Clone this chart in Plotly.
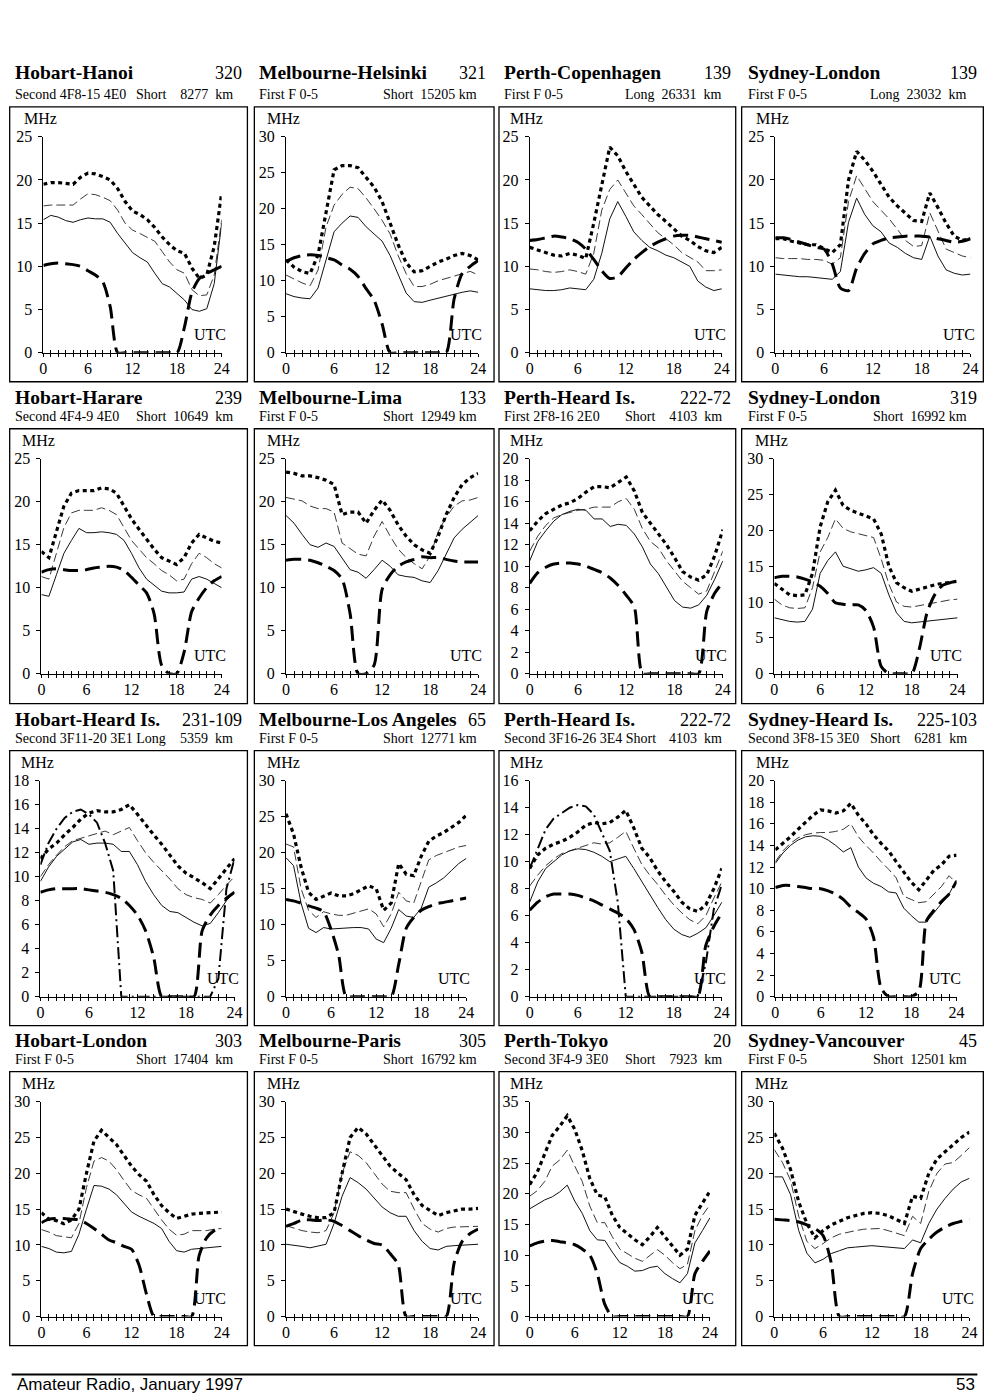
import plotly.graph_objects as go

W, H = 1000, 1400
HOURS = list(range(25))

# ---------------- data (MHz at each hour UTC 0..24) ----------------
# 1 Hobart-Hanoi
hanoi_upper = [19.5, 19.7, 19.7, 19.6, 19.5, 20.3, 20.8, 20.7, 20.4, 20.0, 19.0, 17.5, 16.4, 16.0, 15.4, 14.5, 13.4, 12.5, 11.8, 11.5, 9.8, 8.6, 9.0, 12.3, 18.5]
hanoi_median = [17.0, 17.1, 17.1, 17.1, 17.1, 17.8, 18.4, 18.3, 18.0, 17.6, 16.5, 15.0, 14.2, 13.8, 13.3, 12.9, 11.7, 10.5, 9.6, 9.2, 7.3, 6.6, 6.7, 9.0, 15.4]
hanoi_lower = [15.4, 15.9, 15.7, 15.3, 15.1, 15.4, 15.6, 15.5, 15.5, 15.1, 13.8, 12.7, 11.6, 11.0, 10.5, 9.2, 8.0, 7.6, 6.9, 6.1, 5.0, 4.8, 5.1, 8.0, 15.0]
hanoi_alf = [10.1, 10.3, 10.4, 10.3, 10.2, 10.0, 9.5, 9.0, 8.2, 5.3, 0, 0, 0, 0, 0, 0, 0, 0, 0, 3.0, 7.0, 8.6, 9.2, 9.6, 10.0]
# 2 Melbourne-Helsinki
helsinki_upper = [12.9, 11.9, 11.25, 11.0, 13.6, 19.5, 25.4, 26.0, 26.0, 25.7, 24.4, 23.0, 21.0, 18.0, 15.0, 12.5, 11.25, 11.4, 12.0, 12.6, 13.0, 13.5, 13.8, 13.5, 12.9]
helsinki_median = [10.8, 10.2, 9.7, 9.3, 11.5, 17.5, 20.5, 22.0, 23.0, 22.8, 21.5, 20.0, 18.4, 16.5, 13.5, 11.0, 9.2, 9.2, 9.5, 10.0, 10.3, 10.6, 11.0, 11.3, 10.8]
helsinki_lower = [8.2, 7.8, 7.6, 7.5, 9.0, 13.0, 16.8, 18.0, 19.0, 18.8, 17.5, 16.5, 15.5, 13.5, 11.0, 8.3, 7.1, 7.0, 7.3, 7.6, 7.8, 8.1, 8.4, 8.6, 8.4]
helsinki_alf = [12.7, 13.2, 13.5, 13.6, 13.5, 13.2, 12.9, 12.2, 11.6, 10.6, 8.9, 7.3, 4.0, 0, 0, 0, 0, 0, 0, 0, 0, 7.5, 11.0, 12.0, 12.8]
# 3 Perth-Copenhagen
copen_upper = [12.2, 11.9, 11.6, 11.3, 11.2, 11.5, 11.3, 10.9, 15.0, 19.5, 23.8, 22.8, 21.0, 19.5, 18.0, 17.0, 16.0, 15.2, 14.3, 13.5, 13.0, 12.3, 11.8, 11.6, 12.2]
copen_median = [9.7, 9.6, 9.4, 9.3, 9.4, 9.6, 9.4, 9.1, 11.5, 16.5, 18.9, 20.0, 18.5, 17.0, 16.0, 15.0, 13.9, 13.2, 12.5, 11.6, 11.0, 10.5, 9.5, 9.5, 9.6]
copen_lower = [7.4, 7.3, 7.2, 7.2, 7.3, 7.5, 7.4, 7.3, 8.5, 11.5, 15.5, 17.5, 15.8, 14.0, 13.0, 12.2, 11.8, 11.3, 11.0, 10.5, 10.0, 8.3, 7.6, 7.2, 7.4]
copen_alf = [13.0, 13.1, 13.3, 13.5, 13.4, 13.2, 12.8, 12.0, 10.8, 9.5, 8.6, 8.8, 9.8, 10.8, 11.6, 12.3, 12.8, 13.2, 13.5, 13.6, 13.6, 13.4, 13.2, 13.0, 12.8]
# 4 Sydney-London (139)
sydlon1_upper = [13.2, 13.2, 12.9, 12.7, 12.5, 12.5, 12.1, 11.6, 12.5, 20.0, 23.3, 22.3, 21.0, 19.5, 18.0, 17.0, 16.2, 15.3, 15.2, 18.5, 16.8, 15.0, 13.5, 13.0, 13.2]
sydlon1_median = [11.0, 10.9, 10.9, 10.9, 10.8, 10.8, 10.7, 10.25, 11.0, 17.5, 20.5, 19.0, 17.5, 16.5, 15.5, 14.3, 13.0, 12.3, 12.4, 16.2, 14.0, 12.0, 11.6, 11.2, 11.0]
sydlon1_lower = [9.1, 9.0, 8.9, 8.8, 8.8, 8.7, 8.6, 8.5, 9.4, 15.1, 17.9, 16.0, 14.7, 14.0, 12.7, 12.2, 11.5, 11.0, 10.8, 13.5, 11.2, 9.6, 9.2, 9.0, 9.1]
sydlon1_alf = [13.3, 13.3, 13.1, 12.8, 12.5, 12.2, 12.0, 10.3, 7.5, 7.2, 9.8, 11.5, 12.6, 13.0, 13.3, 13.4, 13.5, 13.5, 13.5, 13.4, 13.2, 13.0, 12.8, 12.9, 13.2]
# 5 Hobart-Harare
harare_upper = [14.2, 13.5, 16.5, 19.5, 21.0, 21.3, 21.3, 21.3, 21.6, 21.5, 21.0, 19.5, 18.0, 16.8, 15.6, 14.5, 13.5, 13.1, 12.7, 13.5, 15.2, 16.2, 15.8, 15.4, 15.2]
harare_median = [11.3, 11.0, 14.0, 17.0, 18.7, 19.0, 19.0, 19.0, 19.3, 19.0, 18.5, 17.0, 15.5, 14.5, 13.5, 12.8, 12.0, 11.5, 10.8, 11.0, 12.8, 14.0, 13.5, 12.8, 12.3]
harare_lower = [9.2, 9.0, 11.5, 14.0, 15.5, 16.9, 16.4, 16.4, 16.5, 16.4, 16.2, 15.5, 14.0, 12.3, 11.0, 10.3, 9.6, 9.4, 9.4, 9.5, 11.0, 11.3, 11.0, 10.5, 10.0]
harare_alf = [11.8, 12.1, 12.2, 12.1, 12.0, 12.0, 12.1, 12.3, 12.4, 12.5, 12.4, 12.0, 11.2, 10.3, 9.4, 7.0, 1.0, 0, 0, 2.5, 7.2, 8.8, 10.0, 10.8, 11.3]
# 6 Melbourne-Lima
lima_upper = [23.45, 23.3, 23.0, 23.0, 22.8, 22.5, 22.0, 18.5, 18.8, 18.8, 17.5, 19.0, 20.2, 19.0, 17.3, 16.0, 15.0, 14.4, 14.0, 16.0, 18.5, 20.5, 22.0, 22.8, 23.3]
lima_median = [20.5, 20.3, 20.1, 19.5, 19.2, 19.2, 18.8, 15.2, 14.5, 13.9, 13.7, 16.0, 17.7, 16.0, 14.5, 13.5, 12.8, 12.2, 13.7, 16.5, 18.2, 19.5, 20.1, 20.2, 20.5]
lima_lower = [18.4, 17.5, 16.2, 15.0, 14.7, 15.2, 14.8, 13.5, 12.1, 11.8, 11.1, 12.1, 13.2, 12.5, 11.5, 11.3, 11.2, 10.8, 10.6, 12.0, 14.0, 15.8, 16.8, 17.6, 18.4]
lima_alf = [13.2, 13.3, 13.3, 13.2, 12.9, 12.5, 12.0, 11.0, 7.0, 0, 0, 1.0, 9.8, 11.5, 12.5, 13.0, 13.3, 13.6, 13.5, 13.5, 13.3, 13.1, 13.0, 13.0, 13.0]
# 7 Perth-Heard Is. (first hop)
pheard1_upper = [13.3, 14.2, 14.9, 15.3, 15.7, 15.9, 16.3, 16.9, 17.4, 17.4, 17.3, 17.8, 18.3, 17.0, 15.0, 14.0, 13.0, 12.0, 10.8, 9.5, 9.0, 8.7, 9.2, 11.0, 13.4]
pheard1_median = [11.4, 12.8, 13.8, 14.5, 14.8, 15.0, 15.2, 15.3, 15.5, 15.5, 15.5, 16.0, 16.3, 15.3, 13.5, 12.3, 11.7, 10.5, 9.5, 8.6, 8.0, 7.4, 7.7, 9.5, 11.4]
pheard1_lower = [10.5, 12.3, 13.3, 14.2, 14.8, 15.1, 15.3, 15.2, 14.4, 14.4, 13.7, 13.9, 13.8, 13.0, 11.8, 10.2, 9.3, 8.0, 6.8, 6.2, 6.1, 6.4, 7.3, 8.8, 10.5]
pheard1_alf = [8.4, 9.4, 9.9, 10.2, 10.3, 10.3, 10.2, 10.0, 9.7, 9.4, 8.9, 8.2, 7.3, 6.2, 0, 0, 0, 0, 0, 0, 0, 0, 5.8, 7.5, 8.5]
# 8 Sydney-London (319)
sydlon2_upper = [12.6, 11.8, 11.0, 10.9, 11.0, 14.0, 20.5, 24.0, 25.6, 23.5, 22.8, 22.4, 22.0, 21.6, 19.5, 15.0, 12.7, 12.0, 11.5, 11.8, 12.2, 12.4, 12.6, 12.8, 12.9]
sydlon2_median = [10.4, 9.6, 9.2, 9.1, 9.2, 12.0, 17.0, 19.0, 21.6, 20.3, 19.8, 19.5, 19.2, 19.0, 16.0, 12.5, 10.0, 9.4, 9.3, 9.5, 9.8, 10.0, 10.1, 10.3, 10.4]
sydlon2_lower = [7.8, 7.5, 7.3, 7.2, 7.3, 9.0, 14.0, 15.8, 17.0, 15.0, 14.7, 14.3, 14.5, 14.8, 14.0, 11.0, 8.5, 7.3, 7.1, 7.2, 7.4, 7.5, 7.6, 7.7, 7.8]
sydlon2_alf = [13.4, 13.6, 13.6, 13.5, 13.2, 12.8, 12.2, 11.2, 9.9, 9.7, 9.6, 9.6, 8.8, 6.5, 1.0, 0, 0, 0, 0, 3.5, 8.5, 11.0, 12.3, 12.7, 13.0]
# 9 Hobart-Heard Is.
hheard_upper = [11.5, 12.3, 12.8, 13.5, 14.1, 14.8, 15.3, 15.5, 15.4, 15.4, 15.6, 16.0, 15.2, 14.3, 13.5, 12.7, 11.8, 10.9, 10.3, 9.9, 9.5, 9.0, 9.8, 10.7, 11.5]
hheard_median = [10.0, 11.0, 11.8, 12.5, 13.0, 13.2, 13.4, 13.6, 13.8, 13.5, 13.8, 14.1, 13.0, 12.0, 11.2, 10.5, 9.8, 9.0, 8.5, 8.25, 8.1, 7.8, 8.5, 9.3, 10.0]
hheard_lower = [9.6, 10.8, 11.7, 12.3, 12.9, 13.1, 12.7, 12.8, 12.8, 12.7, 12.1, 12.1, 11.0, 9.6, 8.5, 7.6, 7.1, 7.0, 6.6, 6.2, 5.9, 6.1, 7.0, 8.0, 8.7]
hheard_alf = [8.7, 8.9, 9.0, 9.0, 9.0, 9.0, 8.9, 8.8, 8.7, 8.5, 8.2, 7.6, 6.8, 5.5, 3.3, 0, 0, 0, 0, 0, 5.5, 6.8, 7.6, 8.2, 8.7]
hheard_emuf = [11.0, 12.8, 14.0, 14.9, 15.4, 15.6, 15.2, 14.5, 12.8, 10.5, 0, 0, 0, 0, 0, 0, 0, 0, 0, 0, 0, 0, 1.5, 9.0, 11.5]
# 10 Melbourne-Los Angeles
losang_upper = [25.4, 22.6, 18.0, 14.5, 13.5, 14.0, 14.4, 14.0, 14.0, 14.3, 14.8, 15.4, 15.0, 12.0, 13.0, 18.5, 17.0, 16.8, 19.5, 21.6, 22.3, 22.8, 23.5, 24.2, 25.2]
losang_median = [21.2, 20.8, 15.0, 12.0, 11.0, 11.8, 11.5, 11.3, 11.3, 11.6, 11.9, 12.2, 11.5, 9.7, 11.5, 14.5, 13.3, 13.0, 16.0, 19.0, 19.6, 20.0, 20.4, 20.8, 21.0]
losang_lower = [19.3, 18.2, 13.0, 9.5, 8.9, 9.6, 9.4, 9.5, 9.6, 9.6, 9.6, 9.4, 8.0, 7.5, 9.5, 12.1, 11.2, 11.0, 12.3, 15.2, 15.8, 16.5, 17.5, 18.5, 19.2]
losang_alf = [13.5, 13.3, 13.0, 12.6, 12.3, 11.8, 9.3, 5.8, 0, 0, 0, 0, 0, 0, 0, 4.5, 9.5, 11.0, 12.0, 12.5, 12.9, 13.1, 13.3, 13.5, 13.7]
# 11 Perth-Heard Is. (second hop)
pheard2_upper = [9.5, 10.5, 11.0, 11.3, 11.5, 11.8, 12.2, 12.7, 12.9, 12.8, 12.9, 13.3, 13.8, 12.5, 11.0, 10.3, 9.3, 8.5, 7.8, 7.0, 6.5, 6.3, 6.8, 8.0, 9.5]
pheard2_median = [8.2, 9.0, 9.7, 10.2, 10.6, 10.8, 11.0, 11.2, 11.4, 11.3, 11.4, 11.8, 12.25, 11.0, 9.8, 9.0, 8.3, 7.5, 6.8, 6.2, 5.7, 5.4, 6.0, 7.3, 8.5]
pheard2_lower = [7.0, 8.5, 9.5, 10.0, 10.5, 10.8, 10.95, 10.9, 10.7, 10.4, 10.0, 10.2, 10.4, 9.5, 8.5, 7.6, 6.6, 5.7, 5.0, 4.6, 4.4, 4.7, 5.1, 6.0, 7.0]
pheard2_alf = [6.4, 7.0, 7.4, 7.6, 7.6, 7.6, 7.5, 7.3, 7.1, 6.8, 6.5, 6.2, 5.8, 5.0, 3.3, 0, 0, 0, 0, 0, 0, 0, 3.8, 5.2, 6.2]
pheard2_emuf = [9.5, 11.0, 12.4, 13.2, 13.6, 14.0, 14.2, 14.1, 13.5, 12.2, 10.8, 7.0, 0, 0, 0, 0, 0, 0, 0, 0, 0, 0, 2.5, 6.5, 8.3]
# 12 Sydney-Heard Is.
sheard_upper = [13.6, 14.2, 14.8, 15.5, 16.2, 16.8, 17.3, 17.2, 17.0, 17.2, 17.9, 16.8, 16.0, 15.0, 14.2, 13.5, 12.5, 11.5, 10.6, 9.9, 10.8, 11.7, 12.2, 13.0, 13.1]
sheard_median = [12.5, 13.5, 14.2, 14.7, 15.0, 15.15, 15.2, 15.2, 15.3, 15.5, 16.0, 14.8, 14.0, 13.3, 12.5, 11.8, 11.0, 9.3, 9.0, 8.7, 8.8, 9.5, 10.2, 11.2, 10.5]
sheard_lower = [12.35, 13.3, 14.0, 14.5, 14.8, 14.9, 14.85, 14.5, 14.0, 13.4, 13.8, 12.0, 11.0, 10.5, 10.2, 9.7, 9.6, 8.2, 7.5, 6.9, 6.9, 7.8, 8.7, 9.5, 10.8]
sheard_alf = [10.1, 10.3, 10.3, 10.2, 10.1, 10.0, 10.0, 9.8, 9.5, 9.0, 8.3, 7.8, 7.2, 5.5, 0.8, 0, 0, 0, 0, 0.5, 7.0, 8.0, 8.8, 9.5, 10.7]
# 13 Hobart-London
hlon_upper = [14.5, 13.6, 13.4, 12.95, 13.5, 15.0, 20.0, 24.5, 26.0, 25.0, 24.0, 22.5, 21.0, 19.8, 18.9, 17.0, 15.5, 14.5, 13.7, 14.0, 14.3, 14.4, 14.5, 14.6, 14.6]
hlon_median = [12.15, 11.8, 11.3, 11.1, 11.0, 13.0, 18.0, 21.7, 22.2, 21.7, 20.5, 19.0, 17.6, 17.0, 16.5, 15.0, 13.5, 12.2, 11.35, 11.5, 12.0, 12.0, 12.0, 12.2, 12.3]
hlon_lower = [9.8, 9.5, 9.0, 8.9, 9.1, 11.5, 15.0, 18.3, 18.2, 17.8, 17.0, 15.8, 14.6, 14.0, 13.5, 13.0, 12.3, 10.5, 9.2, 9.0, 9.4, 9.5, 9.7, 9.8, 9.8]
hlon_alf = [13.1, 13.6, 13.7, 13.7, 13.6, 13.5, 13.0, 12.3, 11.5, 10.7, 10.3, 9.8, 9.4, 7.2, 3.1, 0, 0, 0, 0, 0, 0, 8.5, 11.0, 12.0, 12.4]
# 14 Melbourne-Paris
paris_upper = [15.0, 14.6, 14.3, 14.0, 13.8, 13.8, 14.5, 20.0, 25.0, 26.4, 25.5, 24.0, 22.5, 21.0, 20.0, 19.1, 17.0, 15.5, 14.8, 14.1, 14.5, 14.8, 15.0, 15.0, 15.1]
paris_median = [12.7, 12.3, 12.0, 11.8, 11.7, 12.0, 14.5, 20.0, 23.0, 22.5, 21.5, 20.0, 18.5, 17.5, 17.3, 17.3, 15.0, 13.0, 12.2, 11.8, 12.3, 12.5, 12.5, 12.6, 12.6]
paris_lower = [10.1, 10.0, 9.8, 9.6, 9.8, 10.1, 13.0, 16.8, 19.4, 18.7, 17.8, 16.5, 15.3, 14.5, 14.0, 14.0, 12.0, 10.5, 9.5, 9.3, 9.8, 9.9, 10.0, 10.0, 10.1]
paris_alf = [12.6, 13.0, 13.5, 13.5, 13.4, 13.5, 13.3, 12.7, 12.0, 11.3, 10.7, 10.2, 10.0, 8.8, 7.3, 0, 0, 0, 0, 0, 0, 7.5, 10.5, 11.6, 12.2]
# 15 Perth-Tokyo
tokyo_upper = [21.5, 23.5, 26.5, 29.5, 31.0, 32.7, 30.5, 27.0, 22.5, 19.8, 19.5, 16.5, 14.5, 13.5, 12.5, 11.7, 13.0, 14.5, 13.0, 11.5, 10.0, 11.0, 16.5, 18.5, 20.4]
tokyo_median = [19.6, 20.5, 22.0, 24.5, 25.5, 27.1, 24.5, 22.0, 18.0, 15.3, 15.3, 13.0, 11.0, 10.3, 9.5, 9.0, 10.0, 10.9, 10.0, 8.8, 7.8, 8.5, 14.0, 16.5, 18.2]
tokyo_lower = [17.55, 18.3, 19.0, 19.5, 20.3, 21.4, 18.8, 16.8, 14.0, 12.5, 12.4, 10.5, 8.8, 8.2, 7.4, 7.5, 8.0, 8.2, 7.0, 6.2, 5.5, 7.0, 12.0, 14.0, 16.1]
tokyo_alf = [11.5, 12.0, 12.3, 12.4, 12.2, 12.0, 11.7, 11.0, 10.0, 7.0, 2.0, 0, 0, 0, 0, 0, 0, 0, 0, 0, 0, 0, 7.0, 9.0, 10.7]
# 16 Sydney-Vancouver
vanc_upper = [25.6, 23.5, 20.5, 16.0, 13.0, 11.0, 12.0, 12.8, 13.3, 13.8, 14.1, 14.4, 14.5, 14.4, 14.1, 13.6, 13.0, 16.8, 16.5, 20.0, 22.0, 23.0, 24.0, 25.0, 25.75]
vanc_median = [23.3, 21.5, 19.0, 14.0, 10.5, 9.5, 10.2, 11.0, 11.5, 11.8, 12.0, 12.2, 12.3, 12.3, 12.0, 11.6, 11.3, 14.0, 13.0, 17.5, 20.0, 21.3, 21.5, 22.5, 23.6]
vanc_lower = [19.5, 19.5, 17.0, 12.0, 8.85, 7.5, 8.0, 8.8, 9.2, 9.6, 9.7, 9.8, 9.9, 9.8, 9.7, 9.5, 9.5, 10.7, 10.3, 13.0, 15.0, 16.5, 17.8, 18.8, 19.3]
vanc_alf = [13.6, 13.5, 13.4, 13.2, 12.8, 12.3, 11.3, 7.5, 0, 0, 0, 0, 0, 0, 0, 0, 0, 6.0, 9.5, 10.8, 11.8, 12.5, 13.0, 13.3, 13.6]

TITLES = ["Hobart-Hanoi", "Melbourne-Helsinki", "Perth-Copenhagen", "Sydney-London",
          "Hobart-Harare", "Melbourne-Lima", "Perth-Heard Is.", "Sydney-London",
          "Hobart-Heard Is.", "Melbourne-Los Angeles", "Perth-Heard Is.", "Sydney-Heard Is.",
          "Hobart-London", "Melbourne-Paris", "Perth-Tokyo", "Sydney-Vancouver"]
NUMBERS = ["320", "321", "139", "139", "239", "133", "222-72", "319",
           "231-109", "65", "222-72", "225-103", "303", "305", "20", "45"]
MODES = ["Second 4F8-15 4E0", "First F 0-5", "First F 0-5", "First F 0-5",
         "Second 4F4-9 4E0", "First F 0-5", "First 2F8-16 2E0", "First F 0-5",
         "Second 3F11-20 3E1 Long", "First F 0-5", "Second 3F16-26 3E4 Short", "Second 3F8-15 3E0",
         "First F 0-5", "First F 0-5", "Second 3F4-9 3E0", "First F 0-5"]
NB = "\u00a0"
PATHS = ["Short" + NB * 4 + "8277" + NB * 2 + "km", "Short" + NB * 2 + "15205" + NB + "km",
         "Long" + NB * 2 + "26331" + NB * 2 + "km", "Long" + NB * 2 + "23032" + NB * 2 + "km",
         "Short" + NB * 2 + "10649" + NB * 2 + "km", "Short" + NB * 2 + "12949" + NB + "km",
         "Short" + NB * 4 + "4103" + NB * 2 + "km", "Short" + NB * 2 + "16992" + NB + "km",
         "5359" + NB * 2 + "km", "Short" + NB * 2 + "12771" + NB + "km",
         "4103" + NB * 2 + "km", "Short" + NB * 4 + "6281" + NB * 2 + "km",
         "Short" + NB * 2 + "17404" + NB * 2 + "km", "Short" + NB * 2 + "16792" + NB + "km",
         "Short" + NB * 4 + "7923" + NB * 2 + "km", "Short" + NB * 2 + "12501" + NB + "km"]
Y_MAX = [25, 30, 25, 25, 25, 25, 20, 30, 18, 30, 16, 20, 30, 30, 35, 30]
Y_STEP = [5, 5, 5, 5, 5, 5, 2, 5, 2, 5, 2, 2, 5, 5, 5, 5]

SERIES = [
    (hanoi_upper, hanoi_median, hanoi_lower, hanoi_alf, None),
    (helsinki_upper, helsinki_median, helsinki_lower, helsinki_alf, None),
    (copen_upper, copen_median, copen_lower, copen_alf, None),
    (sydlon1_upper, sydlon1_median, sydlon1_lower, sydlon1_alf, None),
    (harare_upper, harare_median, harare_lower, harare_alf, None),
    (lima_upper, lima_median, lima_lower, lima_alf, None),
    (pheard1_upper, pheard1_median, pheard1_lower, pheard1_alf, None),
    (sydlon2_upper, sydlon2_median, sydlon2_lower, sydlon2_alf, None),
    (hheard_upper, hheard_median, hheard_lower, hheard_alf, hheard_emuf),
    (losang_upper, losang_median, losang_lower, losang_alf, None),
    (pheard2_upper, pheard2_median, pheard2_lower, pheard2_alf, pheard2_emuf),
    (sheard_upper, sheard_median, sheard_lower, sheard_alf, None),
    (hlon_upper, hlon_median, hlon_lower, hlon_alf, None),
    (paris_upper, paris_median, paris_lower, paris_alf, None),
    (tokyo_upper, tokyo_median, tokyo_lower, tokyo_alf, None),
    (vanc_upper, vanc_median, vanc_lower, vanc_alf, None),
]

# ---------------- layout geometry (reference pixels) ----------------
COL_BOX = [(8, 248), (255, 497), (502, 741), (747, 991)]
ROW_BOX = [(107, 382), (429, 704), (751, 1026), (1072, 1346)]
PLOT_X = [[(42, 222), (287, 481), (533, 727), (781, 978)],
          [(40, 222), (287, 481), (533, 728), (780, 965)],
          [(39, 235), (287, 469), (533, 727), (781, 964)],
          [(40, 222), (287, 481), (533, 715), (780, 977)]]
PLOT_Y = [(353, 137), (674, 459), (997, 781), (1317, 1102)]
TITLE_Y = [73, 398, 720, 1041]
SUB_Y = [95, 417, 739, 1060]
TITLE_X = [11, 258, 505, 751]
NUM_X = [245, 491, 738, 987]
SUB_RX = [235, 482, 729, 977]

# photographed picture maps page pixels slightly (measured with a calibration run)
SHOT_KX, SHOT_BX = 0.9975, 2.25
SHOT_KY, SHOT_BY = 0.988, 8.2

SERIF = "Liberation Serif"
ST_UPPER = dict(color="black", width=3.2, dash="4px,3.5px")
ST_MEDIAN = dict(color="#222", width=0.9, dash="9px,4px")
ST_LOWER = dict(color="#111", width=1.0)
ST_ALF = dict(color="black", width=3.0, dash="15px,7px", shape="spline", smoothing=0.7)
ST_EMUF = dict(color="black", width=2.0, dash="12px,4px,2px,4px")


def px(x):
    return ((x - SHOT_BX) / SHOT_KX) / W


def py(y):
    return 1 - ((y - SHOT_BY) / SHOT_KY) / H


fig = go.Figure()
axes = {}
annotations = []
shapes = []

for i in range(16):
    r, c = divmod(i, 4)
    n = i + 1
    xa, ya = f"x{n}", f"y{n}"
    x0, x1 = PLOT_X[r][c]
    y0, y1 = PLOT_Y[r]
    up, med, low, alf, emuf = SERIES[i]
    for vals, st in [(low, ST_LOWER), (med, ST_MEDIAN), (up, ST_UPPER), (emuf, ST_EMUF), (alf, ST_ALF)]:
        if vals is None:
            continue
        fig.add_trace(go.Scatter(x=HOURS, y=vals, mode="lines", line=st, xaxis=xa, yaxis=ya,
                                 showlegend=False, hoverinfo="skip"))
    tickfont = dict(family=SERIF, size=16, color="black")
    axes[f"xaxis{n}"] = dict(domain=[px(x0), px(x1)], range=[0, 24], anchor=ya,
                             tickvals=[0, 6, 12, 18, 24], ticks="outside", ticklen=3, tickwidth=1,
                             tickcolor="black", showline=True, linecolor="black", linewidth=1,
                             showgrid=False, zeroline=False, tickfont=tickfont, ticklabelstandoff=-2,
                             minor=dict(tickvals=HOURS, ticks="outside", ticklen=3, tickcolor="black",
                                        tickwidth=1, showgrid=False))
    axes[f"yaxis{n}"] = dict(domain=[py(y0), py(y1)], range=[0, Y_MAX[i]], anchor=xa,
                             tickvals=list(range(0, Y_MAX[i] + 1, Y_STEP[i])), ticks="outside",
                             ticklen=4, tickwidth=1, tickcolor="black", showline=True,
                             linecolor="black", linewidth=1, showgrid=False, zeroline=False,
                             tickfont=tickfont, ticklabelstandoff=3)
    m = n + 16
    axes[f"xaxis{m}"] = dict(range=[0, 24], anchor=ya, overlaying=xa, tickvals=HOURS,
                             ticks="inside", ticklen=3, tickwidth=1, tickcolor="black",
                             showticklabels=False, showline=False, showgrid=False, zeroline=False)
    fig.add_trace(go.Scatter(x=[None], y=[None], xaxis=f"x{m}", yaxis=ya, showlegend=False,
                             hoverinfo="skip", mode="lines"))

    bx0, bx1 = COL_BOX[c]
    by0, by1 = ROW_BOX[r]
    shapes.append(dict(type="rect", xref="paper", yref="paper", x0=px(bx0), x1=px(bx1),
                       y0=py(by1), y1=py(by0), line=dict(color="black", width=1.3)))
    annotations += [
        dict(text="<b>" + TITLES[i] + "</b>", x=px(TITLE_X[c]), y=py(TITLE_Y[r]), xanchor="left",
             yanchor="middle", font=dict(family=SERIF, size=19.5, color="black")),
        dict(text=NUMBERS[i], x=px(NUM_X[c]), y=py(TITLE_Y[r]), xanchor="right", yanchor="middle",
             font=dict(family=SERIF, size=18, color="black")),
        dict(text=MODES[i], x=px(TITLE_X[c]), y=py(SUB_Y[r]), xanchor="left", yanchor="middle",
             font=dict(family=SERIF, size=14, color="black")),
        dict(text=PATHS[i], x=px(SUB_RX[c]), y=py(SUB_Y[r]), xanchor="right", yanchor="middle",
             font=dict(family=SERIF, size=14, color="black")),
        dict(text="MHz", x=px(x0 - 3), y=py(y1 - 18), xanchor="center", yanchor="middle",
             font=dict(family=SERIF, size=16, color="black")),
        dict(text="UTC", x=px(x1 - 12), y=py(y0 - 18), xanchor="center", yanchor="middle",
             font=dict(family=SERIF, size=16, color="black")),
    ]

# footer
shapes.append(dict(type="line", xref="paper", yref="paper", x0=px(10), x1=px(985), y0=py(1375),
                   y1=py(1375), line=dict(color="black", width=2)))
annotations += [
    dict(text="Amateur Radio, January 1997", x=px(13), y=py(1385), xanchor="left", yanchor="middle",
         font=dict(family="Liberation Sans", size=17, color="black")),
    dict(text="53", x=px(985), y=py(1385), xanchor="right", yanchor="middle",
         font=dict(family="Liberation Sans", size=17, color="black")),
]
for a in annotations:
    a.update(xref="paper", yref="paper", showarrow=False)

fig.update_layout(width=W, height=H, autosize=False, margin=dict(l=0, r=0, t=0, b=0),
                  paper_bgcolor="white", plot_bgcolor="white", hovermode=False,
                  annotations=annotations, shapes=shapes, showlegend=False, **axes)

# remove the default 8px page margin so the 1000x1400 figure fills the window exactly
fig.write_html("out.html", config={"displayModeBar": False},
               post_script="document.body.style.margin='0px';document.body.style.overflow='hidden';")
